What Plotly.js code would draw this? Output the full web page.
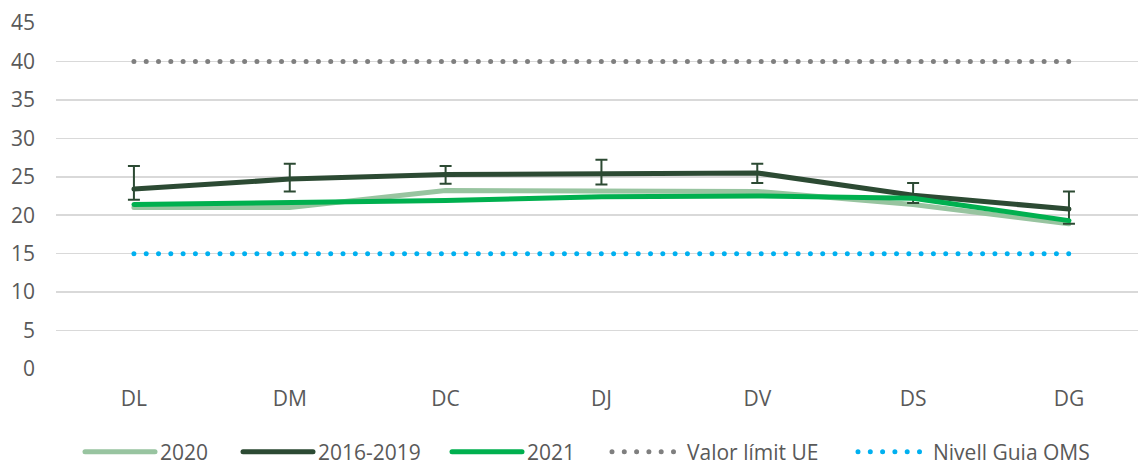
<!DOCTYPE html>
<html>
<head>
<meta charset="utf-8">
<script src="https://cdn.plot.ly/plotly-3.0.1.min.js"></script>
<style>
html,body{margin:0;padding:0;background:#fff;}
path.js-line{stroke-linecap:round !important;}
</style>
</head>
<body>
<div id="chart" style="width:1138px;height:466px;"></div>
<script>
const categories = ["DL", "DM", "DC", "DJ", "DV", "DS", "DG"];
const s2020 = [21.0, 21.0, 23.2, 23.1, 23.1, 21.4, 18.9];
const s2016_2019 = [23.4, 24.7, 25.3, 25.4, 25.5, 22.6, 20.8];
const err2016_2019Plus = [3.0, 2.0, 1.1, 1.8, 1.2, 1.6, 2.3];
const err2016_2019Minus = [1.4, 1.6, 1.2, 1.4, 1.3, 1.0, 1.9];
const s2021 = [21.4, 21.6, 21.9, 22.4, 22.5, 22.2, 19.3];
const limitUE = [40, 40, 40, 40, 40, 40, 40];
const guiaOMS = [15, 15, 15, 15, 15, 15, 15];
const yTicks = [0, 5, 10, 15, 20, 25, 30, 35, 40, 45];

const font = {family: "'Open Sans', 'Noto Sans', sans-serif", size: 21, color: "#595959"};

const traces = [
  {name: "2020", x: categories, y: s2020, type: "scatter", mode: "lines", legend: "legend",
   line: {color: "#98c4a0", width: 5}},
  {name: "2016-2019", x: categories, y: s2016_2019, type: "scatter", mode: "lines", legend: "legend2",
   line: {color: "#2c4a33", width: 5},
   error_y: {type: "data", symmetric: false, array: err2016_2019Plus, arrayminus: err2016_2019Minus,
             color: "#2c4a33", thickness: 2, width: 6}},
  {name: "2021", x: categories, y: s2021, type: "scatter", mode: "lines", legend: "legend3",
   line: {color: "#00b04f", width: 5}},
  {name: "Valor límit UE", x: categories, y: limitUE, type: "scatter", mode: "lines", legend: "legend4",
   line: {color: "#7f7f7f", width: 5, dash: "0px,12.3px"}},
  {name: "Nivell Guia OMS", x: categories, y: guiaOMS, type: "scatter", mode: "lines", legend: "legend5",
   line: {color: "#00b0f0", width: 5, dash: "0px,12.3px"}}
];

function leg(px) {
  return {orientation: "h", xref: "container", yref: "container", x: px / 1138, xanchor: "left",
          y: 14 / 466, yanchor: "middle", font: font, itemwidth: 70, bgcolor: "rgba(0,0,0,0)"};
}

const layout = {
  width: 1138, height: 466,
  margin: {l: 56, r: 0, t: 23, b: 97},
  paper_bgcolor: "#fff", plot_bgcolor: "#fff",
  font: font,
  showlegend: true,
  legend: leg(80), legend2: leg(238), legend3: leg(447), legend4: leg(607), legend5: leg(853),
  xaxis: {type: "category", range: [-0.5, 6.443], showgrid: false, zeroline: false,
          showline: false, ticks: "", tickfont: font, ticklabelstandoff: 15, fixedrange: true},
  yaxis: {range: [0, 45], tickvals: yTicks, ticktext: yTicks.map(String), showgrid: true,
          gridcolor: "#d9d9d9", gridwidth: 1.5, zeroline: false, showline: false,
          ticks: "", tickfont: font, ticklabelstandoff: 20, fixedrange: true}
};

Plotly.newPlot("chart", traces, layout, {displayModeBar: false, staticPlot: true});
</script>
</body>
</html>
